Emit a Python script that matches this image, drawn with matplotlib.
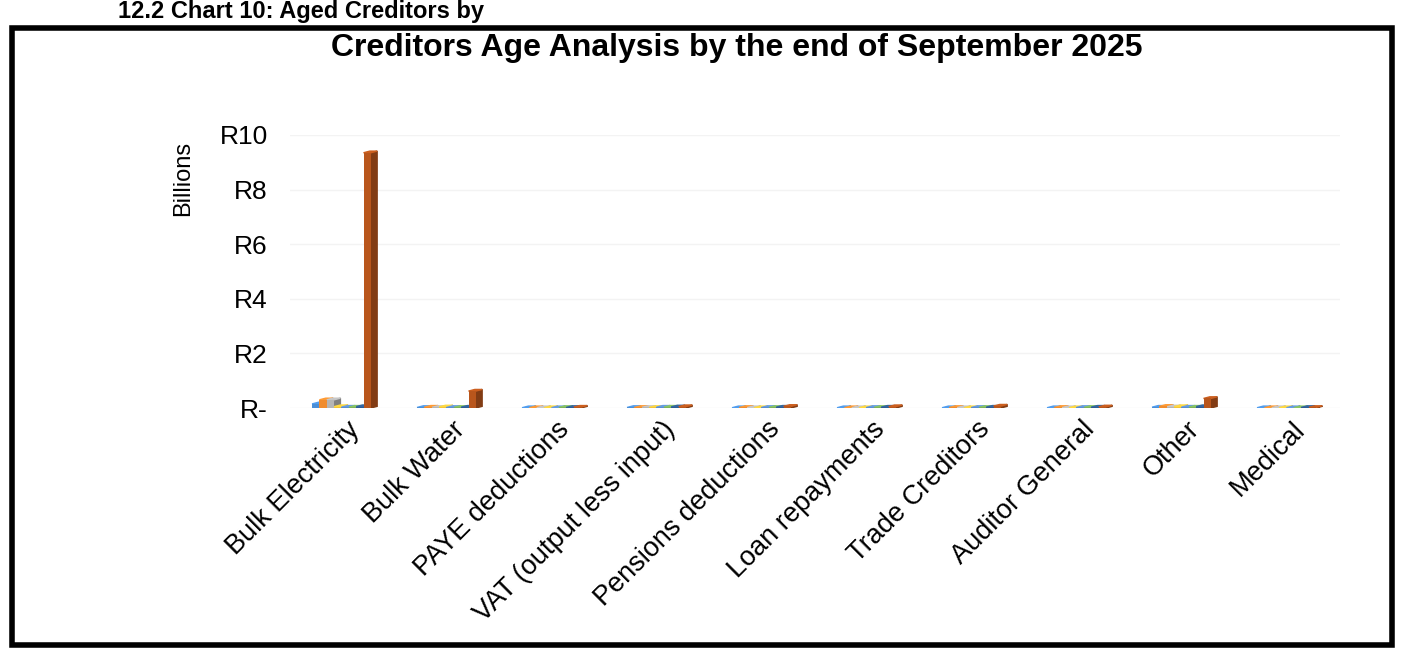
import numpy as np
import matplotlib
matplotlib.use('Agg')
import matplotlib.pyplot as plt
from matplotlib.patches import Rectangle, Polygon
from matplotlib.ticker import FuncFormatter

plt.rcParams['font.family'] = ['Liberation Sans', 'DejaVu Sans']

categories = ['Bulk Electricity', 'Bulk Water', 'PAYE deductions', 'VAT (output less input)',
              'Pensions deductions', 'Loan repayments', 'Trade Creditors', 'Auditor General',
              'Other', 'Medical']

# amounts owed per age bucket, R billions
days_0_30 = [0.15, 0.02, 0.01, 0.02, 0.01, 0.01, 0.01, 0.01, 0.03, 0.01]
days_31_60 = [0.30, 0.03, 0.01, 0.02, 0.02, 0.01, 0.02, 0.02, 0.06, 0.01]
days_61_90 = [0.30, 0.02, 0.01, 0.02, 0.01, 0.01, 0.01, 0.01, 0.04, 0.01]
days_91_120 = [0.05, 0.04, 0.01, 0.02, 0.01, 0.01, 0.01, 0.01, 0.05, 0.01]
days_121_150 = [0.03, 0.02, 0.01, 0.03, 0.02, 0.02, 0.02, 0.02, 0.03, 0.01]
days_151_180 = [0.03, 0.02, 0.02, 0.03, 0.02, 0.02, 0.02, 0.02, 0.03, 0.01]
days_181_365 = [0.05, 0.03, 0.02, 0.04, 0.03, 0.03, 0.03, 0.03, 0.05, 0.02]
over_1_year = [9.35, 0.62, 0.03, 0.05, 0.06, 0.05, 0.07, 0.04, 0.35, 0.02]

series = [days_0_30, days_31_60, days_61_90, days_91_120,
          days_121_150, days_151_180, days_181_365, over_1_year]
colors = ['#4A8FD8', '#F08C2E', '#B5B5B5', '#F2C53A', '#5B8ED0', '#7DB35A', '#2E5D94', '#B9561C']
yticks = [0, 2, 4, 6, 8, 10]

fig = plt.figure(figsize=(14.03, 6.58), dpi=100)
ax = fig.add_axes([290 / 1403, 1 - 408 / 658, 1050 / 1403, 273 / 658])

x = np.arange(len(categories))
w = 0.07
depth = 0.06
for i, (vals, c) in enumerate(zip(series, colors)):
    pos = x - 0.29 + i * w
    ax.bar(pos, vals, width=w, color=c, align='edge', zorder=3)
    # darker side and lighter top to give the columns some depth
    side = tuple(v * 0.7 for v in matplotlib.colors.to_rgb(c))
    top = tuple(min(1, v * 1.1) for v in matplotlib.colors.to_rgb(c))
    for p, v in zip(pos, vals):
        ax.add_patch(Polygon([(p + w, 0), (p + w + depth, 0.06), (p + w + depth, v + 0.06), (p + w, v)],
                             closed=True, color=side, zorder=2))
        ax.add_patch(Polygon([(p, v), (p + w, v), (p + w + depth, v + 0.06), (p + depth, v + 0.06)],
                             closed=True, color=top, zorder=2))

ax.set_xlim(-0.5, len(categories) - 0.5)
ax.set_ylim(0, 10)
ax.set_yticks(yticks)
ax.yaxis.set_major_formatter(FuncFormatter(lambda v, p: 'R-' if v == 0 else f'R{v:g}'))
ax.grid(axis='y', color='#f3f3f3', linewidth=1, zorder=0)
for s in ax.spines.values():
    s.set_visible(False)
ax.tick_params(axis='y', length=0, pad=16, labelsize=19)
ax.tick_params(axis='x', length=0, pad=6)
ax.set_xticks(x + 0.04)
ax.set_xticklabels(categories, rotation=45, ha='right', va='top', rotation_mode='anchor', fontsize=19.5)

fig.text(183 / 1403, 1 - 178 / 658, 'Billions', rotation=90, ha='center', va='center', fontsize=17)
fig.text(737 / 1403, 1 - 48 / 658, 'Creditors Age Analysis by the end of September 2025',
         ha='center', va='center', fontsize=23, fontweight='bold')
fig.text(118 / 1403, 1 - 18 / 658, '12.2 Chart 10: Aged Creditors by',
         ha='left', va='baseline', fontsize=17, fontweight='bold')

fig.patches.append(Rectangle((12 / 1403, 1 - 645 / 658), 1380 / 1403, 617 / 658,
                             transform=fig.transFigure, fill=False, edgecolor='black', linewidth=4))

fig.savefig('out.png', dpi=100)
